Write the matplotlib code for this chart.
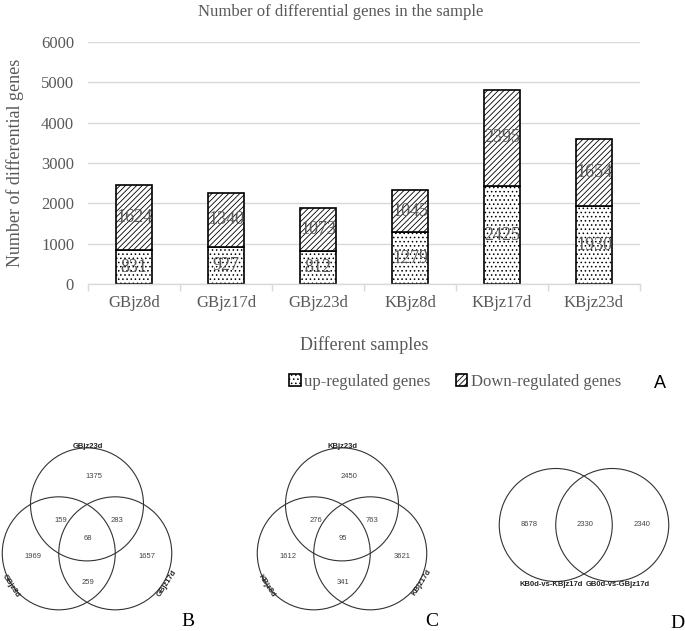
import numpy as np
import matplotlib.pyplot as plt
from matplotlib.patches import Circle

plt.rcParams['font.family'] = ['Liberation Serif', 'DejaVu Serif']
plt.rcParams['hatch.linewidth'] = 0.6

# data
samples = ['GBjz8d', 'GBjz17d', 'GBjz23d', 'KBjz8d', 'KBjz17d', 'KBjz23d']
up_genes = [831, 927, 812, 1279, 2425, 1930]
down_genes = [1624, 1340, 1073, 1045, 2395, 1654]

venn_b_labels = ['GBjz23d', 'GBjz8d', 'GBjz17d']
venn_b_counts = {'top': 1375, 'left': 1969, 'right': 1657,
                 'top_left': 159, 'top_right': 283, 'left_right': 259, 'all': 68}
venn_c_labels = ['KBjz23d', 'KBjz8d', 'KBjz17d']
venn_c_counts = {'top': 2450, 'left': 1612, 'right': 3621,
                 'top_left': 276, 'top_right': 763, 'left_right': 341, 'all': 95}
venn_d_labels = ['KB0d-vs-KBjz17d', 'GB0d-vs-GBjz17d']
venn_d_counts = [8678, 2330, 2340]

GRAY = '#595959'
W, H = 685, 631

fig = plt.figure(figsize=(W / 100, H / 100), dpi=100)

# ---- panel A: stacked bars ----
ax = fig.add_axes([88 / W, 1 - 284 / H, (640 - 88) / W, (284 - 42) / H])
x = np.arange(len(samples))
b1 = ax.bar(x, up_genes, width=0.39, color='white', edgecolor='black',
            linewidth=1.2, hatch='....', label='up-regulated genes')
b2 = ax.bar(x, down_genes, width=0.39, bottom=up_genes, color='white',
            edgecolor='black', linewidth=1.2, hatch='//////',
            label='Down-regulated genes')
ax.bar_label(b1, label_type='center', color=GRAY, fontsize=13)
ax.bar_label(b2, label_type='center', color=GRAY, fontsize=13)

ax.set_ylim(0, 6000)
ax.set_xlim(-0.5, len(samples) - 0.5)
ax.set_yticks(range(0, 6001, 1000))
ax.yaxis.grid(True, color='#d9d9d9', linewidth=1)
ax.set_axisbelow(True)
for s in ['top', 'right', 'left']:
    ax.spines[s].set_visible(False)
ax.spines['bottom'].set_color('#d9d9d9')
ax.spines['bottom'].set_linewidth(1)
ax.set_xticks(x)
ax.set_xticklabels(samples)
ax.set_xticks(np.arange(-0.5, len(samples), 1), minor=True)
ax.tick_params(axis='x', which='major', length=0, pad=8, labelsize=12, labelcolor=GRAY)
ax.tick_params(axis='x', which='minor', length=5, color='#d9d9d9', width=1)
ax.tick_params(axis='y', length=0, pad=10, labelsize=12, labelcolor=GRAY)
fig.text(341 / W, 1 - 12 / H, 'Number of differential genes in the sample',
         color=GRAY, fontsize=12, ha='center', va='center')
ax.set_ylabel('Number of differential genes', color=GRAY, fontsize=13, labelpad=12)
ax.set_xlabel('Different samples', color=GRAY, fontsize=13, labelpad=18)

leg = fig.legend(handles=[b1, b2], loc='center', ncol=2, frameon=False,
                 bbox_to_anchor=(455 / W, 1 - 382 / H), fontsize=12,
                 handlelength=0.7, handleheight=0.7, handletextpad=0.2,
                 columnspacing=1.5)
for t in leg.get_texts():
    t.set_color(GRAY)
fig.text(660 / W, 1 - 383 / H, 'A', fontsize=13, family='Liberation Sans',
         ha='center', va='center')

# ---- Venn panels (overlay axes in pixel coords) ----
ov = fig.add_axes([0, 0, 1, 1])
ov.set_xlim(0, W)
ov.set_ylim(H, 0)
ov.axis('off')

R = 56.5
SANS = 'Liberation Sans'


def venn3(cx, cy, labels, counts):
    # equilateral layout of centres, side = R, (cx, cy) = centroid
    centers = [(cx, cy - 0.577 * R),
               (cx - 0.5 * R, cy + 0.289 * R),
               (cx + 0.5 * R, cy + 0.289 * R)]
    for c in centers:
        ov.add_patch(Circle(c, R, fill=False, edgecolor='#333333', linewidth=0.8))
    pos = {'top': (cx + 7, cy - 61), 'left': (cx - 54, cy + 19), 'right': (cx + 60, cy + 19),
           'top_left': (cx - 26, cy - 17), 'top_right': (cx + 30, cy - 17),
           'left_right': (cx + 1, cy + 45), 'all': (cx + 1, cy + 1)}
    for k, v in counts.items():
        ov.text(*pos[k], str(v), fontsize=5.5, family=SANS, color='#444444',
                ha='center', va='center')
    ov.text(cx + 1, cy - 91, labels[0], fontsize=5.5, family=SANS,
            ha='center', va='center', weight='bold', color='#222222')
    ov.text(cx - 76, cy + 49, labels[1], fontsize=5.5, family=SANS,
            ha='center', va='center', rotation=-57, weight='bold', color='#222222')
    ov.text(cx + 80, cy + 46, labels[2], fontsize=5.5, family=SANS,
            ha='center', va='center', rotation=57, weight='bold', color='#222222')


venn3(87, 537, venn_b_labels, venn_b_counts)
venn3(342, 537, venn_c_labels, venn_c_counts)

# two-set venn
dcx, dcy = 584, 525
for sx in (-0.5, 0.5):
    ov.add_patch(Circle((dcx + sx * R, dcy), R, fill=False, edgecolor='#333333',
                        linewidth=0.8))
for px, v in zip((dcx - 55, dcx + 1, dcx + 58), venn_d_counts):
    ov.text(px, dcy, str(v), fontsize=5.5, family=SANS, color='#444444',
            ha='center', va='center')
ov.text(dcx - 1, dcy + 60, venn_d_labels[0], fontsize=5.5, family=SANS,
        ha='right', va='center', weight='bold', color='#222222')
ov.text(dcx + 2, dcy + 60, venn_d_labels[1], fontsize=5.5, family=SANS,
        ha='left', va='center', weight='bold', color='#222222')

for lbl, px, py in (('B', 188, 622), ('C', 432, 622), ('D', 677, 623)):
    ov.text(px, py, lbl, fontsize=14, ha='center', va='center')

fig.savefig('out.png', dpi=100)
